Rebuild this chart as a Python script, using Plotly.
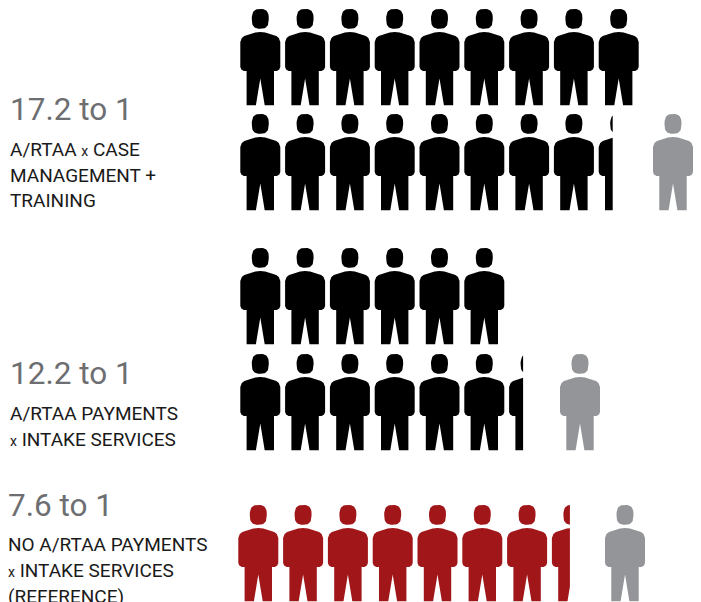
import numpy as np
import plotly.graph_objects as go

# --- data ---
ratio_labels = ["17.2 to 1", "12.2 to 1", "7.6 to 1"]
upper_row_counts = [9, 6, 0]
lower_row_counts = [8.35, 6.35, 7.45]
reference_counts = [1, 1, 1]
description_lines = [
    ["A/RTAA <span style='font-size:14px'>x</span> CASE", "MANAGEMENT +", "TRAINING"],
    ["A/RTAA PAYMENTS", "<span style='font-size:14px'>x</span> INTAKE SERVICES"],
    ["NO A/RTAA PAYMENTS", "<span style='font-size:14px'>x</span> INTAKE SERVICES", "(REFERENCE)"],
]

# --- layout / style ---
W, H = 701, 602
BLACK, GREY, RED = "#000000", "#939598", "#A01619"
TEXT_GREY, TEXT_DARK = "#6D6E71", "#1A1A1A"
PITCH = 44.8
FONT = "Roboto"
group_styles = [
    dict(color=BLACK, x0=260.3, upper_top=9, lower_top=114, ref_x=673, ref_top=114,
         text_x=7.5, big_base=120.5, base=[155.5, 181.5, 206.5]),
    dict(color=BLACK, x0=260.3, upper_top=248, lower_top=354, ref_x=580, ref_top=354,
         text_x=7.5, big_base=384.5, base=[420, 446]),
    dict(color=RED, x0=258.3, upper_top=505, lower_top=505, ref_x=625, ref_top=505,
         text_x=5.5, big_base=516, base=[550.5, 576.5, 602.5]),
]

# person glyph in its own units: origin at top centre, 40 wide, 96 tall
t = np.linspace(0, 2 * np.pi, 48, endpoint=False)
head_x = 8.5 * np.sign(np.cos(t)) * np.abs(np.cos(t)) ** 0.72
head_y = 9.9 + 9.9 * np.sign(np.sin(t)) * np.abs(np.sin(t)) ** 0.72
body_x = [0, 5, 16, 18.5, 20, 20, 19, 16.5, 13.7, 13.7, 4.4, 0, -4.4, -13.7, -13.7,
          -16.5, -19, -20, -20, -18.5, -16, -5]
body_y = [23, 23.5, 27, 29, 33, 58, 60.5, 62, 62, 96.3, 96.3, 69.5, 96.3, 96.3, 62,
          62, 60.5, 58, 33, 29, 27, 23.5]


def clip_right(xs, ys, limit):
    """Keep the part of a closed polygon left of x = limit."""
    out_x, out_y = [], []
    n = len(xs)
    for i in range(n):
        xa, ya, xb, yb = xs[i], ys[i], xs[(i + 1) % n], ys[(i + 1) % n]
        if xa <= limit:
            out_x.append(xa)
            out_y.append(ya)
        if (xa <= limit) != (xb <= limit):
            f = (limit - xa) / (xb - xa)
            out_x.append(limit)
            out_y.append(ya + f * (yb - ya))
    return out_x, out_y


def person(cx, top, fraction=1.0):
    left = -20 + 40 * fraction
    xs, ys = [], []
    for px, py in ((head_x, head_y), (body_x, body_y)):
        cxs, cys = clip_right(list(px), list(py), left)
        if cxs:
            xs += [cx + v for v in cxs] + [cx + cxs[0], None]
            ys += [top + v for v in cys] + [top + cys[0], None]
    return xs, ys


def row(count, x0, top):
    xs, ys = [], []
    whole = int(count)
    for i in range(whole):
        a, b = person(x0 + i * PITCH, top)
        xs += a
        ys += b
    if count > whole:
        a, b = person(x0 + whole * PITCH, top, count - whole)
        xs += a
        ys += b
    return xs, ys


fig = go.Figure()


def add_marks(xs, ys, color, name):
    fig.add_trace(go.Scatter(x=xs, y=ys, mode="lines", fill="toself", fillcolor=color,
                             line=dict(width=0, color=color), hoverinfo="skip",
                             showlegend=False, name=name))


annotations = []


def add_text(text, x, baseline, size, color):
    annotations.append(dict(text=text, x=x, y=baseline - 0.34 * size, xref="x", yref="y",
                            xanchor="left", yanchor="middle", showarrow=False, align="left",
                            font=dict(family=FONT, size=size, color=color)))


for i, style in enumerate(group_styles):
    xs, ys = row(upper_row_counts[i], style["x0"], style["upper_top"])
    a, b = row(lower_row_counts[i], style["x0"], style["lower_top"])
    if xs:
        xs += a
        ys += b
    else:
        xs, ys = a, b
    add_marks(xs, ys, style["color"], ratio_labels[i])
    a, b = row(reference_counts[i], style["ref_x"], style["ref_top"])
    add_marks(a, b, GREY, "reference")
    add_text(ratio_labels[i], style["text_x"], style["big_base"], 31.5, TEXT_GREY)
    for line, base in zip(description_lines[i], style["base"]):
        add_text(line, style["text_x"], base, 19, TEXT_DARK)

fig.update_layout(
    width=W, height=H, margin=dict(l=0, r=0, t=0, b=0), autosize=False,
    paper_bgcolor="white", plot_bgcolor="white", showlegend=False, annotations=annotations,
    xaxis=dict(range=[0, W], visible=False, fixedrange=True),
    yaxis=dict(range=[H, 0], visible=False, fixedrange=True),
)
fig.write_html("out.html", config=dict(displayModeBar=False),
               post_script="document.body.style.margin='0';document.body.style.overflow='hidden';")
